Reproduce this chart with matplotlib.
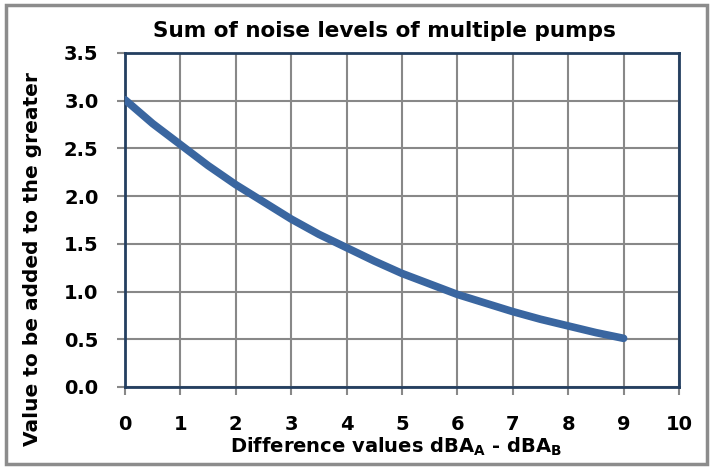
import matplotlib
matplotlib.use("Agg")
import matplotlib.pyplot as plt
from matplotlib.patches import Rectangle

plt.rcParams['font.family'] = ['DejaVu Sans']
plt.rcParams['mathtext.fontset'] = 'dejavusans'

diff = [0, 0.5, 1, 1.5, 2, 2.5, 3, 3.5, 4, 4.5, 5, 5.5, 6, 6.5, 7, 7.5, 8, 8.5, 9]
added = [3.01, 2.76, 2.54, 2.32, 2.12, 1.94, 1.76, 1.60, 1.46, 1.32, 1.19,
         1.08, 0.97, 0.88, 0.79, 0.71, 0.64, 0.57, 0.51]
xticks = list(range(0, 11))
yticks = [0.0, 0.5, 1.0, 1.5, 2.0, 2.5, 3.0, 3.5]

W, H = 712, 468
WT = 'bold'
fig = plt.figure(figsize=(W / 100, H / 100), dpi=100)
ax = fig.add_axes([125 / W, 1 - 387 / H, (679 - 125) / W, (387 - 53) / H])

ax.plot(diff, added, color='#3A66A0', lw=5.5, solid_capstyle='round', zorder=3)

ax.set_xlim(0, 10)
ax.set_ylim(0, 3.5)
ax.set_xticks(xticks)
ax.set_yticks(yticks)
ax.set_xticklabels([str(v) for v in xticks], fontsize=14, fontweight=WT)
ax.set_yticklabels([f'{v:.1f}' for v in yticks], fontsize=14, fontweight=WT)
ax.grid(True, color='#888888', lw=1.5, zorder=1)
ax.set_axisbelow(True)
ax.tick_params(axis='both', color='#888888', width=1.5, length=6)
ax.tick_params(axis='x', pad=14)
ax.tick_params(axis='y', pad=13)
for s in ax.spines.values():
    s.set_color('#243F60')
    s.set_linewidth(2)

fig.text(396 / W, 1 - 447 / H,
         r'Difference values dBA$_{\mathbf{A}}$ - dBA$_{\mathbf{B}}$',
         ha='center', va='center', fontsize=14, fontweight=WT)
fig.text(33 / W, 1 - 259 / H, 'Value to be added to the greater',
         ha='center', va='center', rotation=90, fontsize=14.5, fontweight=WT)

fig.text(384 / W, 1 - 31 / H, 'Sum of noise levels of multiple pumps',
         ha='center', va='center', fontsize=15.5, fontweight=WT)

fig.patches.append(Rectangle((6 / W, 4 / H), (W - 11) / W, (H - 9) / H,
                             transform=fig.transFigure, fill=False,
                             edgecolor='#8C8C8C', lw=2.5))

fig.savefig('out.png', dpi=100)
